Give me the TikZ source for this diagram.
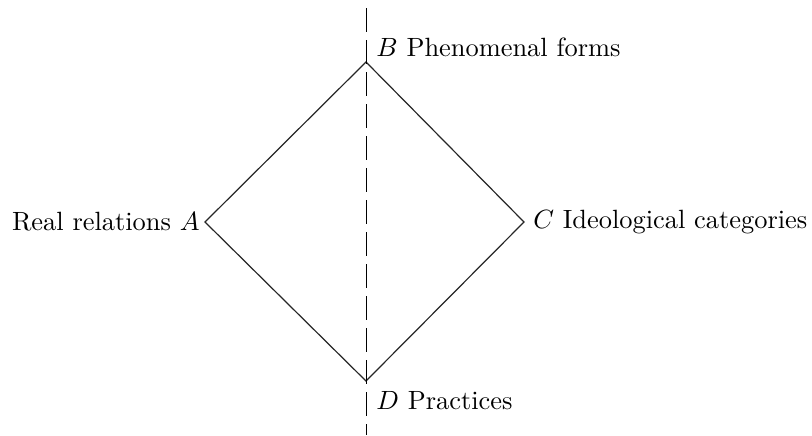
\documentclass[tikz,border=0pt]{standalone}
\usepackage{graphicx}
\newcommand{\mylbl}[1]{\scalebox{1.32}{#1}}
\begin{document}
\begin{tikzpicture}[x=0.5pt,y=-0.5pt,
  edge/.style={draw=black!85, line width=0.6pt},
  axis/.style={draw=black, line width=0.5pt, dash pattern=on 12pt off 4pt},
  lab/.style={inner sep=0pt, font=\normalsize}]
\useasboundingbox (0,0) rectangle (812,435);
\coordinate (A) at (205,222);
\coordinate (B) at (366,62);
\coordinate (C) at (524,222);
\coordinate (D) at (366,381);
\coordinate (top) at (366,8);
\coordinate (bot) at (366,435);
\draw[edge] (A) -- (B) -- (C) -- (D) -- cycle;
\draw[axis] (top) -- (bot);
\node[lab, anchor=east] (la) at (200,222) {\mylbl{Real relations $A$}};
\node[lab, anchor=west] (lb) at (376,47) {\mylbl{$B$ Phenomenal forms}};
\node[lab, anchor=west] (lc) at (533,222) {\mylbl{$C$ Ideological categories}};
\node[lab, anchor=west] (ld) at (376,401) {\mylbl{$D$ Practices}};
\end{tikzpicture}
\end{document}
